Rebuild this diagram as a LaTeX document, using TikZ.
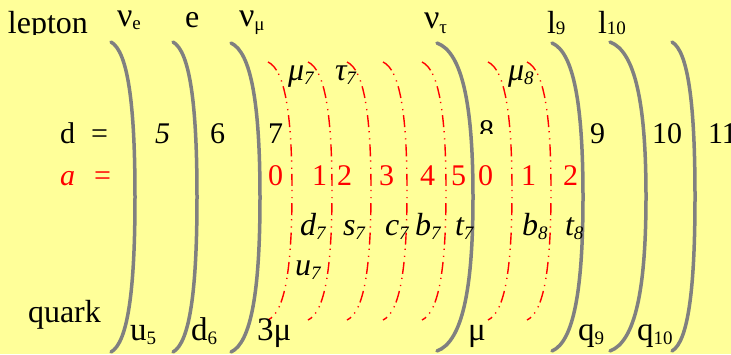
\documentclass[tikz,border=0pt]{standalone}
\usepackage{fontspec}
\setmainfont{Liberation Serif}
\definecolor{bg}{RGB}{255,255,153}
\definecolor{arcgray}{RGB}{128,128,128}
\tikzset{
  lbl/.style={anchor=base west, inner sep=0pt, outer sep=0pt},
  grayarc/.style={draw=arcgray, line width=3.5pt, line cap=round},
  redarc/.style={draw=red, line width=1.4pt, dash pattern=on 12pt off 4pt on 1.2pt off 6pt on 1.2pt off 5pt},
}
\newcommand{\fs}[1]{\fontsize{#1}{#1}\selectfont}
\newcommand{\sbs}[2]{\raisebox{-#1pt}{\fs{19}#2}}
\newcommand{\parenarc}[5]{%
  \path[#1] (#2,#3) .. controls ({#2+0.7*#5},{#3+0.03*(#4-#3)}) and ({#2+#5},{#3+0.2*(#4-#3)}) .. ({#2+#5},{(#3+#4)/2})
    .. controls ({#2+#5},{#4-0.2*(#4-#3)}) and ({#2+0.7*#5},{#4-0.03*(#4-#3)}) .. (#2,#4);}
\begin{document}
\begin{tikzpicture}[x=1pt,y=-1pt]
\fill[bg] (0,0) rectangle (731,354);
\useasboundingbox (0,0) rectangle (731,354);
% gray brackets
\parenarc{grayarc}{111}{42}{352}{24}
\parenarc{grayarc}{173}{42}{352}{24}
\parenarc{grayarc}{231}{43}{352}{29}
\parenarc{grayarc}{437}{43}{351}{36}
\parenarc{grayarc}{552}{43}{351}{31}
\parenarc{grayarc}{610}{42}{351}{36}
\parenarc{grayarc}{672}{42}{351}{23}
% red dash-dot brackets
\foreach \rx in {268,308,347,383,422,488,527}{\parenarc{redarc}{\rx}{62}{320}{24}}
% top row
\begin{scope}
\clip (0,0) rectangle (100,34);
\node[lbl] (lepton) at (8,33) {\fs{32}lepton};
\end{scope}
\node[lbl] (nue) at (117,26) {\fs{34}ν\sbs{3}{e}};
\node[lbl] (e) at (185,27) {\fs{32}e};
\node[lbl] (numu) at (239,26) {\fs{34}ν\sbs{4}{μ}};
\node[lbl] (nutau) at (424,28) {\fs{34}ν\sbs{5}{τ}};
\node[lbl] (l9) at (547,33) {\fs{32}l\sbs{1}{9}};
\node[lbl] (l10) at (598,33) {\fs{32}l\sbs{1}{10}};
% d row
\node[lbl] (d) at (60,143) {\fs{30}d};
\node[lbl] (deq) at (91,143) {\fs{30}=};
\node[lbl] (d5) at (155,143) {\fs{30}\itshape 5};
\node[lbl] (d6) at (210,143) {\fs{30}6};
\node[lbl] (d7) at (268,143) {\fs{30}7};
\begin{scope}
\clip (470,100) rectangle (500,133);
\node[lbl] (d8) at (479,140) {\fs{30}8};
\end{scope}
\node[lbl] (d9) at (590,143) {\fs{30}9};
\node[lbl] (d10) at (652,143) {\fs{30}10};
\node[lbl] (d11) at (708,143) {\fs{30}11};
% a row
\node[lbl,text=red] (a) at (60,185) {\fs{30}\itshape a};
\node[lbl,text=red] (aeq) at (94,185) {\fs{30}=};
\node[lbl,text=red] (a0) at (268,185) {\fs{30}0};
\node[lbl,text=red] (a1) at (312,185) {\fs{30}1};
\node[lbl,text=red] (a2) at (337,185) {\fs{30}2};
\node[lbl,text=red] (a3) at (379,185) {\fs{30}3};
\node[lbl,text=red] (a4) at (420,185) {\fs{30}4};
\node[lbl,text=red] (a5) at (451,185) {\fs{30}5};
\node[lbl,text=red] (b0) at (478,185) {\fs{30}0};
\node[lbl,text=red] (b1) at (521,185) {\fs{30}1};
\node[lbl,text=red] (b2) at (563,185) {\fs{30}2};
% italic labels
\node[lbl] (mu7) at (288,80) {\fs{32}\itshape μ\sbs{4}{7}};
\node[lbl] (tau7) at (335,80) {\fs{32}\itshape τ\sbs{4}{7}};
\node[lbl] (mu8) at (508,80) {\fs{32}\itshape μ\sbs{4}{8}};
\node[lbl] (dq7) at (300,235) {\fs{32}\itshape d\sbs{4}{7}};
\node[lbl] (sq7) at (343,235) {\fs{32}\itshape s\sbs{4}{7}};
\node[lbl] (cq7) at (385,235) {\fs{32}\itshape c\sbs{4}{7}};
\node[lbl] (bq7) at (415,235) {\fs{32}\itshape b\sbs{4}{7}};
\node[lbl] (tq7) at (455,235) {\fs{32}\itshape t\sbs{4}{7}};
\node[lbl] (bq8) at (522,235) {\fs{32}\itshape b\sbs{4}{8}};
\node[lbl] (tq8) at (565,235) {\fs{32}\itshape t\sbs{4}{8}};
\node[lbl] (uq7) at (295,275) {\fs{32}\itshape u\sbs{4}{7}};
% bottom row
\node[lbl] (quark) at (28,322) {\fs{32}quark};
\node[lbl] (u5) at (130,340) {\fs{33}u\sbs{4}{5}};
\node[lbl] (d6b) at (191,340) {\fs{33}d\sbs{4}{6}};
\node[lbl] (mu3) at (257,340) {\fs{33}3μ};
\node[lbl] (mub) at (468,340) {\fs{33}μ};
\node[lbl] (q9) at (578,340) {\fs{33}q\sbs{4}{9}};
\node[lbl] (q10) at (637,340) {\fs{33}q\sbs{4}{10}};
\end{tikzpicture}
\end{document}
